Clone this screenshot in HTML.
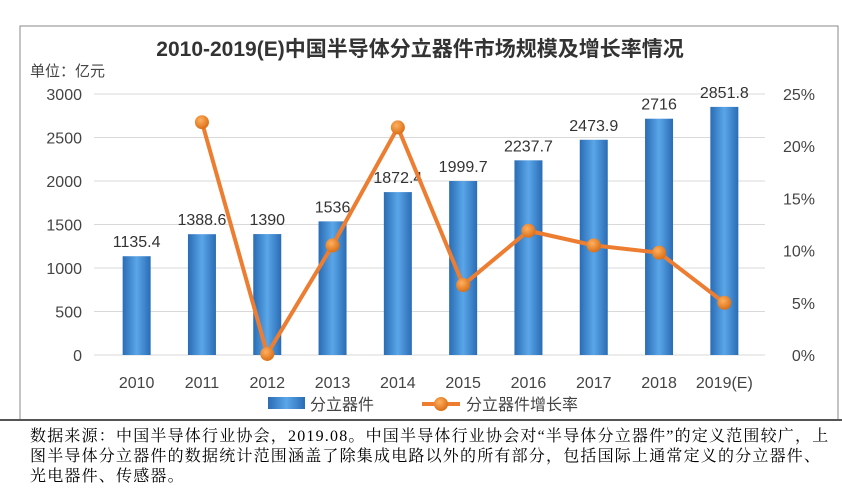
<!DOCTYPE html>
<html><head><meta charset="utf-8"><style>
body{margin:0;background:#fff;width:842px;height:488px;overflow:hidden;font-family:"Liberation Sans","Noto Sans CJK SC",sans-serif;}
svg text{font-family:"Liberation Sans","Noto Sans CJK SC",sans-serif;}
.foot{position:absolute;left:30px;top:427px;width:810px;font-size:16px;line-height:20px;letter-spacing:1.2px;color:#000;font-family:"Liberation Serif","Noto Serif CJK SC",serif;}
.foot div{white-space:nowrap;}
</style></head><body>
<svg id="c" width="842" height="488" style="position:absolute;left:0;top:0">
<defs>
<linearGradient id="bg" x1="0" x2="1" y1="0" y2="0">
<stop offset="0" stop-color="#2a6cb5"/><stop offset="0.5" stop-color="#5aa6e8"/><stop offset="1" stop-color="#2a6cb5"/></linearGradient>
<radialGradient id="dg" cx="0.4" cy="0.35" r="0.7"><stop offset="0" stop-color="#ffb060"/><stop offset="1" stop-color="#d86a10"/></radialGradient>
</defs>
<rect x="20" y="26" width="818" height="394" fill="#fff" stroke="#888" stroke-width="1"/>
<line x1="0" y1="420" x2="842" y2="420" stroke="#555" stroke-width="2"/>
<text x="420" y="56" text-anchor="middle" font-size="21" font-weight="bold" fill="#333">2010-2019(E)中国半导体分立器件市场规模及增长率情况</text>
<text x="30" y="76" font-size="15" fill="#444">单位：亿元</text>
<g id="grid"></g><g id="bars"></g><g id="line"></g><g id="axes"></g>
<g>
<rect x="268" y="397" width="37" height="12" fill="url(#bg)"/>
<text x="310" y="410" font-size="16" fill="#444">分立器件</text>
<line x1="422" y1="404" x2="460" y2="404" stroke="#ed7d31" stroke-width="4"/>
<circle cx="441" cy="404" r="7" fill="url(#dg)"/>
<text x="466" y="410" font-size="16" fill="#444">分立器件增长率</text>
</g>
</svg>
<div class="foot"><div>数据来源：中国半导体行业协会，2019.08。中国半导体行业协会对“半导体分立器件”的定义范围较广，上</div><div>图半导体分立器件的数据统计范围涵盖了除集成电路以外的所有部分，包括国际上通常定义的分立器件、</div><div>光电器件、传感器。</div></div>
<script>
const categories=["2010","2011","2012","2013","2014","2015","2016","2017","2018","2019(E)"];
const marketSize=[1135.4,1388.6,1390,1536,1872.4,1999.7,2237.7,2473.9,2716,2851.8];
const growthRate=[null,22.3,0.1,10.5,21.8,6.7,11.9,10.5,9.8,5.0];
const leftTicks=[0,500,1000,1500,2000,2500,3000];
const rightTicks=["0%","5%","10%","15%","20%","25%"];
const NS="http://www.w3.org/2000/svg";
const x0=104,step=65.3,yTop=94,yBot=355;
const xs=i=>x0+step*(i+0.5);
const yL=v=>yBot-(v/3000)*(yBot-yTop);
const yR=v=>yBot-(v/25)*(yBot-yTop);
function mk(t,a,p){const e=document.createElementNS(NS,t);for(const k in a)e.setAttribute(k,a[k]);p.appendChild(e);return e;}
const g=document.getElementById('grid'),b=document.getElementById('bars'),l=document.getElementById('line'),ax=document.getElementById('axes');
leftTicks.forEach(v=>{
 const ln=mk('line',{x1:x0-10,x2:765,y1:yL(v),y2:yL(v),stroke:'#d9d9d9'},g);
 
 
 const t=mk('text',{x:82,y:yL(v)+6,'text-anchor':'end','font-size':16,fill:'#444'},ax);t.textContent=v;
 
 
});
rightTicks.forEach((s,i)=>{
 const t=mk('text',{x:815,y:yR(i*5)+6,'text-anchor':'end','font-size':16,fill:'#444'},ax);t.textContent=s;
 
 
});
categories.forEach((c,i)=>{
 const t=mk('text',{x:xs(i),y:388,'text-anchor':'middle','font-size':16,fill:'#444'},ax);t.textContent=c;
 
 
 const v=marketSize[i];
 const r=mk('rect',{x:xs(i)-14,y:yL(v),width:28,height:yBot-yL(v),fill:'url(#bg)'},b);
 
 
 const lb=mk('text',{x:xs(i),y:yL(v)-9,'text-anchor':'middle','font-size':16,fill:'#333'},b);lb.textContent=v;
 
 
});
let pts=[];growthRate.forEach((v,i)=>{if(v!==null)pts.push([xs(i),yR(v)]);});
const pl=mk('polyline',{points:pts.map(p=>p.join(',')).join(' '),fill:'none',stroke:'#ed7d31','stroke-width':4,'stroke-linejoin':'round'},l);


pts.forEach(p=>{const c=mk('circle',{cx:p[0],cy:p[1],r:7,fill:'url(#dg)'},l);
 
 });
</script>
</body></html>
